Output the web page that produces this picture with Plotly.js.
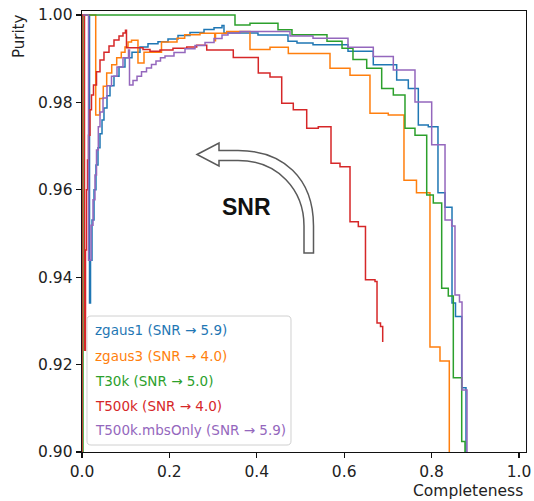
<!DOCTYPE html>
<html>
<head>
<meta charset="utf-8">
<script src="https://cdn.plot.ly/plotly-3.0.1.min.js"></script>
<style>html,body{margin:0;padding:0;background:#fff;}#chart{width:534px;height:501px;}</style>
</head>
<body>
<div id="chart"></div>
<script>
// ---- data (completeness, purity) ----
const seriesNames = ["zgaus1 (SNR \u2192 5.9)", "zgaus3 (SNR \u2192 4.0)", "T30k (SNR \u2192 5.0)", "T500k (SNR \u2192 4.0)", "T500k.mbsOnly (SNR \u2192 5.9)"];
const seriesColors = ["#1f77b4", "#ff7f0e", "#2ca02c", "#d62728", "#9467bd"];

const zgaus1_x = [0.0023,0.0172,0.0195,0.0229,0.0275,0.0320,0.0366,0.0412,0.0458,0.0503,0.0572,0.0641,0.0732,0.0847,0.0984,0.1144,0.1327,0.1510,0.1739,0.1968,0.2197,0.2471,0.2792,0.3021,0.3204,0.3249,0.4027,0.4714,0.4920,0.5286,0.6087,0.6666,0.7201,0.7467,0.7696,0.7924,0.8146,0.8307,0.8467,0.8547,0.8689,0.8787];
const zgaus1_y = [1.0,0.9341,0.9439,0.9531,0.9600,0.9657,0.9696,0.9728,0.9760,0.9787,0.9815,0.9838,0.9860,0.9881,0.9902,0.9915,0.9927,0.9934,0.9939,0.9945,0.9953,0.9960,0.9967,0.9971,0.9976,0.9959,0.9954,0.9940,0.9936,0.9932,0.9917,0.9886,0.9851,0.9832,0.9748,0.9744,0.9593,0.9560,0.9341,0.9310,0.9147,0.900];

const zgaus3_x = [0.0023,0.0314,0.0405,0.0487,0.0565,0.0680,0.0794,0.0899,0.0984,0.1053,0.1133,0.1281,0.1419,0.1819,0.2174,0.2350,0.2700,0.3037,0.3055,0.3311,0.3844,0.4302,0.4721,0.5675,0.6133,0.6590,0.7009,0.7368,0.7654,0.7963,0.8192,0.8405];
const zgaus3_y = [1.0,0.9771,0.9809,0.9837,0.9867,0.9886,0.9902,0.9915,0.9927,0.9938,0.9942,0.9890,0.9915,0.9938,0.9947,0.9955,0.9958,0.9941,0.9958,0.9962,0.9921,0.9926,0.9912,0.9878,0.9862,0.9775,0.9771,0.9622,0.9593,0.9240,0.9208,0.900];

const t30k_x = [0.0023,0.0023,0.3501,0.3844,0.4485,0.4805,0.5606,0.5950,0.6201,0.6515,0.6858,0.7124,0.7391,0.7620,0.7888,0.8039,0.8231,0.8382,0.8497,0.8689,0.8764];
const t30k_y = [0.900,1.000,0.9977,0.9981,0.9966,0.9955,0.9940,0.9924,0.9898,0.9878,0.9832,0.9817,0.9741,0.9725,0.9588,0.9570,0.9375,0.9357,0.9170,0.9024,0.900];

const t500k_x = [0,0,0.0057,0.0080,0.0103,0.0126,0.0149,0.0183,0.0217,0.0263,0.0332,0.0412,0.0503,0.0618,0.0732,0.0847,0.0938,0.0995,0.1018,0.1396,0.1556,0.1785,0.2082,0.2396,0.2625,0.2854,0.3462,0.4034,0.4302,0.4570,0.4835,0.5142,0.5407,0.5698,0.5904,0.6133,0.6323,0.6487,0.6705,0.6751,0.6831,0.6881];
const t500k_y = [0.900,1.0,0.9233,0.9462,0.9600,0.9668,0.9725,0.9783,0.9817,0.9840,0.9870,0.9897,0.9915,0.9929,0.9943,0.9952,0.9959,0.9965,0.9925,0.9921,0.9917,0.9920,0.9924,0.9927,0.9931,0.9920,0.9903,0.9867,0.9858,0.9798,0.9783,0.9741,0.9744,0.9661,0.9653,0.9527,0.9516,0.9394,0.9390,0.9295,0.9287,0.9252];

const mbs_x = [0.0023,0.0149,0.0206,0.0252,0.0297,0.0332,0.0373,0.0412,0.0481,0.0572,0.0675,0.0801,0.0938,0.1064,0.1087,0.1167,0.1259,0.1362,0.1476,0.1590,0.1693,0.1796,0.1899,0.2105,0.2357,0.2586,0.2815,0.3021,0.3204,0.3341,0.3616,0.4760,0.5286,0.6087,0.6666,0.7124,0.7620,0.8002,0.8307,0.8460,0.8535,0.8638,0.8696,0.8810];
const mbs_y = [1.0,0.9439,0.9519,0.9577,0.9634,0.9691,0.9744,0.9778,0.9810,0.9838,0.9860,0.9881,0.9902,0.9920,0.9840,0.9850,0.9860,0.9870,0.9879,0.9887,0.9895,0.9902,0.9906,0.9914,0.9923,0.9930,0.9937,0.9946,0.9954,0.9959,0.9962,0.9952,0.9947,0.9926,0.9905,0.9874,0.9801,0.9703,0.9531,0.9517,0.9359,0.9343,0.9142,0.900];

const xTickVals = [0.0,0.2,0.4,0.6,0.8,1.0];
const xTickText = ["0.0","0.2","0.4","0.6","0.8","1.0"];
const yTickVals = [0.90,0.92,0.94,0.96,0.98,1.00];
const yTickText = ["0.90","0.92","0.94","0.96","0.98","1.00"];

// ---- layout helpers (pixel -> paper) ----
const W = 534, H = 501, ML = 82, MR = 8, MT = 11, MB = 49;
const PW = W - ML - MR, PH = H - MT - MB;
const fx = px => (px - ML) / PW;
const fy = py => (H - MB - py) / PH;
const P = (px, py) => fx(px).toFixed(5) + ',' + fy(py).toFixed(5);

const xs = [zgaus1_x, zgaus3_x, t30k_x, t500k_x, mbs_x];
const ys = [zgaus1_y, zgaus3_y, t30k_y, t500k_y, mbs_y];

const traces = xs.map((x, i) => ({
  x: x, y: ys[i], type: 'scatter', mode: 'lines',
  line: {color: seriesColors[i], width: 1.5, shape: 'hv'},
  name: seriesNames[i], showlegend: false, hoverinfo: 'skip'
}));

const tickFont = {family: 'DejaVu Sans', size: 15.5, color: '#222'};

// arrow path
const arrowPath = 'M' + P(197,154.5) + ' L' + P(219,143) + ' L' + P(219,150.5) + ' L' + P(238,150.5) +
  ' C' + P(283,150.5) + ' ' + P(313.5,178) + ' ' + P(313.5,226) +
  ' L' + P(313.5,253) + ' L' + P(304,253) + ' L' + P(304,226) +
  ' C' + P(304,190) + ' ' + P(278,160.5) + ' ' + P(238,160.5) +
  ' L' + P(219,160.5) + ' L' + P(219,166) + ' Z';

// legend box (rounded)
const lx0 = 87, lx1 = 291, ly0 = 316, ly1 = 445, r = 4;
const legendPath = 'M' + P(lx0 + r, ly0) + ' L' + P(lx1 - r, ly0) + ' Q' + P(lx1, ly0) + ' ' + P(lx1, ly0 + r) +
  ' L' + P(lx1, ly1 - r) + ' Q' + P(lx1, ly1) + ' ' + P(lx1 - r, ly1) +
  ' L' + P(lx0 + r, ly1) + ' Q' + P(lx0, ly1) + ' ' + P(lx0, ly1 - r) +
  ' L' + P(lx0, ly0 + r) + ' Q' + P(lx0, ly0) + ' ' + P(lx0 + r, ly0) + ' Z';

const legendY = [330, 356, 381.5, 405.5, 429.5];
const annotations = seriesNames.map((t, i) => ({
  xref: 'paper', yref: 'paper', x: fx(93), y: fy(legendY[i]), xanchor: 'left', yanchor: 'middle',
  text: t, showarrow: false, font: {family: 'DejaVu Sans', size: 13.5, color: seriesColors[i]}
}));
annotations.push({xref: 'paper', yref: 'paper', x: fx(19), y: fy(36), xanchor: 'center', yanchor: 'middle',
  text: 'Purity', textangle: -90, showarrow: false, font: {family: 'DejaVu Sans', size: 15, color: '#222'}});
annotations.push({xref: 'paper', yref: 'paper', x: fx(468), y: fy(491), xanchor: 'center', yanchor: 'middle',
  text: 'Completeness', showarrow: false, font: {family: 'DejaVu Sans', size: 15.5, color: '#222'}});
annotations.push({xref: 'paper', yref: 'paper', x: fx(246), y: fy(207), xanchor: 'center', yanchor: 'middle',
  text: '<b>SNR</b>', showarrow: false, font: {family: 'Liberation Sans', size: 23, color: '#111'}});

const layout = {
  width: W, height: H,
  margin: {l: ML, r: MR, t: MT, b: MB, pad: 0},
  paper_bgcolor: '#fff', plot_bgcolor: '#fff',
  showlegend: false,
  xaxis: {range: [0, PW / 437], tickvals: xTickVals, ticktext: xTickText, showgrid: false, zeroline: false,
    showline: true, mirror: true, linecolor: '#111', linewidth: 1.3, ticks: 'outside', ticklen: 5,
    tickwidth: 1.2, tickcolor: '#111', tickfont: tickFont},
  yaxis: {range: [0.9, 0.9 + PH / 4370], tickvals: yTickVals, ticktext: yTickText, showgrid: false, zeroline: false,
    showline: true, mirror: true, linecolor: '#111', linewidth: 1.3, ticks: 'outside', ticklen: 5,
    tickwidth: 1.2, tickcolor: '#111', tickfont: tickFont},
  shapes: [
    {type: 'path', xref: 'paper', yref: 'paper', path: legendPath, fillcolor: 'rgba(255,255,255,0.85)',
      line: {color: '#d0d0d0', width: 1}, layer: 'above'},
    {type: 'path', xref: 'paper', yref: 'paper', path: arrowPath, fillcolor: '#ffffff',
      line: {color: '#5a5a5a', width: 1.5}, layer: 'above'}
  ],
  annotations: annotations
};

Plotly.newPlot('chart', traces, layout, {displayModeBar: false, staticPlot: true});
</script>
</body>
</html>
